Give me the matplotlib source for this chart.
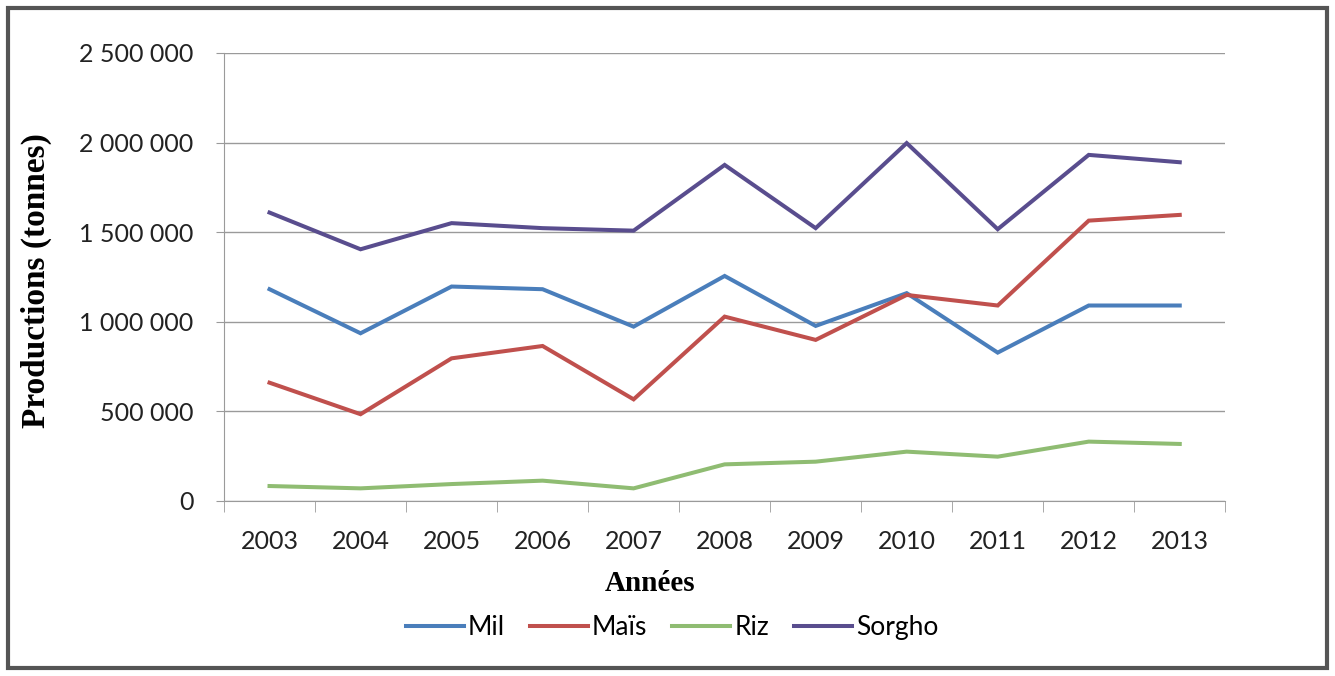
import matplotlib.pyplot as plt
from matplotlib.ticker import FuncFormatter, FixedLocator
from matplotlib.patches import Rectangle

# Production data (tonnes)
annees = ['2003', '2004', '2005', '2006', '2007', '2008', '2009', '2010', '2011', '2012', '2013']
mil = [1181000, 935000, 1196000, 1181000, 972000, 1255000, 976000, 1159000, 827000, 1090000, 1090000]
mais = [659000, 483000, 795000, 864000, 566000, 1028000, 898000, 1149000, 1090000, 1564000, 1596000]
riz = [82000, 69000, 93000, 112000, 69000, 203000, 218000, 274000, 246000, 330000, 317000]
sorgho = [1609000, 1404000, 1550000, 1522000, 1508000, 1875000, 1522000, 1997000, 1516000, 1931000, 1890000]

series = [('Mil', mil, '#4A7EBB'), ('Maïs', mais, '#C0504D'),
          ('Riz', riz, '#8FBC72'), ('Sorgho', sorgho, '#594D8E')]

tick_font = 'Lato'
label_font = 'Liberation Serif'

fig = plt.figure(figsize=(13.35, 6.76), dpi=100)
ax = fig.add_axes([0.1678, 0.2593, 0.75, 0.6623])

x = list(range(len(annees)))
for name, vals, col in series:
    ax.plot(x, vals, color=col, lw=2.9, label=name, solid_joinstyle='miter')

ax.set_xlim(-0.5, len(annees) - 0.5)
ax.set_ylim(0, 2500000)
ax.set_yticks([0, 500000, 1000000, 1500000, 2000000, 2500000])
ax.yaxis.set_major_formatter(FuncFormatter(lambda v, p: f"{int(v):,}".replace(',', ' ')))
ax.set_xticks(x)
ax.set_xticklabels(annees)
ax.xaxis.set_minor_locator(FixedLocator([i - 0.5 for i in range(len(annees) + 1)]))

ax.grid(axis='y', color='#9a9a9a', lw=1)
ax.set_axisbelow(True)
for s in ['top', 'right']:
    ax.spines[s].set_visible(False)
ax.spines['left'].set_color('#9a9a9a')
ax.spines['bottom'].set_color('#9a9a9a')

ax.tick_params(axis='x', which='major', length=0, pad=21, labelsize=18)
ax.tick_params(axis='x', which='minor', length=8, color='#9a9a9a')
ax.tick_params(axis='y', length=6, color='#9a9a9a', pad=16, labelsize=18)
for lab in ax.get_xticklabels() + ax.get_yticklabels():
    lab.set_fontfamily(tick_font)
    lab.set_color('#222222')

ax.set_ylabel('Productions (tonnes)', fontfamily=label_font, fontweight='bold', fontsize=24, va='center')
ax.yaxis.set_label_coords(-0.1878, 0.4907)
ax.set_xlabel('Années', fontfamily=label_font, fontweight='bold', fontsize=21, va='center')
ax.xaxis.set_label_coords(0.4256, -0.186)

leg = ax.legend(loc='center', bbox_to_anchor=(0.4476, -0.2843), ncol=4, frameon=False,
                prop={'family': tick_font, 'size': 19}, handlelength=2.2,
                handletextpad=0.15, columnspacing=0.95)

# outer frame of the chart
fig.patches.append(Rectangle((0.006, 0.012), 0.988, 0.976, transform=fig.transFigure,
                             fill=False, edgecolor='#555555', lw=3))

fig.savefig('out.png', dpi=100)
